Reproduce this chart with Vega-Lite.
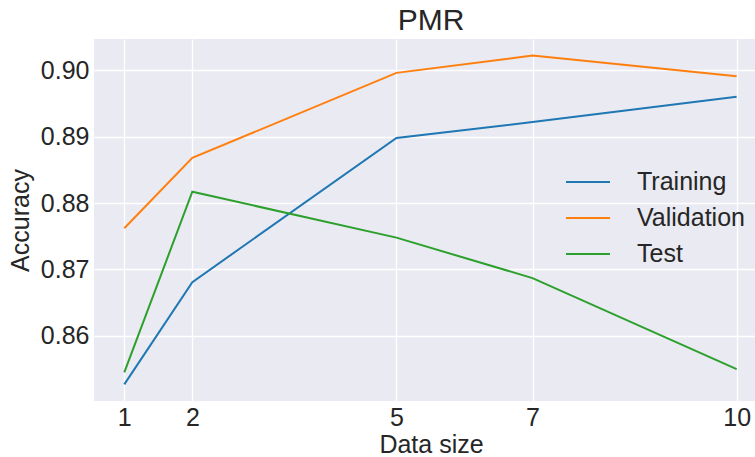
{
  "$schema": "https://vega.github.io/schema/vega-lite/v6.json",
  "autosize": {"type": "none"},
  "width": 661,
  "height": 362,
  "padding": {"left": 94, "top": 39, "right": 0, "bottom": 56},
  "background": "white",
  "title": {"text": "PMR", "fontSize": 30, "font": "Liberation Sans", "fontWeight": "normal", "color": "#262626", "dx": 6.5, "baseline": "alphabetic", "offset": 7, "dy": 28},
  "data": {"values": [
    {"size": 1, "acc": 0.8527, "set": "Training"},
    {"size": 2, "acc": 0.8681, "set": "Training"},
    {"size": 5, "acc": 0.8898, "set": "Training"},
    {"size": 7, "acc": 0.8922, "set": "Training"},
    {"size": 10, "acc": 0.8960, "set": "Training"},
    {"size": 1, "acc": 0.8762, "set": "Validation"},
    {"size": 2, "acc": 0.8868, "set": "Validation"},
    {"size": 5, "acc": 0.8996, "set": "Validation"},
    {"size": 7, "acc": 0.9022, "set": "Validation"},
    {"size": 10, "acc": 0.8991, "set": "Validation"},
    {"size": 1, "acc": 0.8545, "set": "Test"},
    {"size": 2, "acc": 0.8817, "set": "Test"},
    {"size": 5, "acc": 0.8748, "set": "Test"},
    {"size": 7, "acc": 0.8687, "set": "Test"},
    {"size": 10, "acc": 0.8550, "set": "Test"}
  ]},
  "mark": {"type": "line", "strokeWidth": 2, "clip": true},
  "encoding": {
    "x": {"field": "size", "type": "quantitative",
      "scale": {"domain": [0.5547, 10.27], "nice": false, "zero": false},
      "axis": {"values": [1, 2, 5, 7, 10], "title": "Data size", "titleX": 337, "labelPadding": 4, "titlePadding": 2}},
    "y": {"field": "acc", "type": "quantitative",
      "scale": {"domain": [0.8502, 0.9047], "nice": false, "zero": false},
      "axis": {"values": [0.86, 0.87, 0.88, 0.89, 0.90], "format": ".2f", "title": "Accuracy", "labelPadding": 5, "titlePadding": 7}},
    "color": {"field": "set", "type": "nominal",
      "scale": {"domain": ["Training", "Validation", "Test"], "range": ["#1f77b4", "#ff7f0e", "#2ca02c"]},
      "legend": {"title": null, "orient": "none", "legendX": 471, "legendY": 120, "symbolType": "stroke", "symbolSize": 1936, "symbolStrokeWidth": 2, "labelFontSize": 25, "labelOffset": 26, "rowPadding": 0, "padding": 0, "labelFont": "Liberation Sans", "labelColor": "#262626"}}
  },
  "config": {
    "view": {"fill": "#EAEAF2", "stroke": null},
    "axis": {"domain": false, "ticks": false, "tickSize": 0, "gridColor": "white", "gridWidth": 1.3, "gridOpacity": 1,
      "labelFont": "Liberation Sans", "labelFontSize": 25, "labelColor": "#262626",
      "titleFont": "Liberation Sans", "titleFontSize": 25, "titleFontWeight": "normal", "titleColor": "#262626"}
  }
}
